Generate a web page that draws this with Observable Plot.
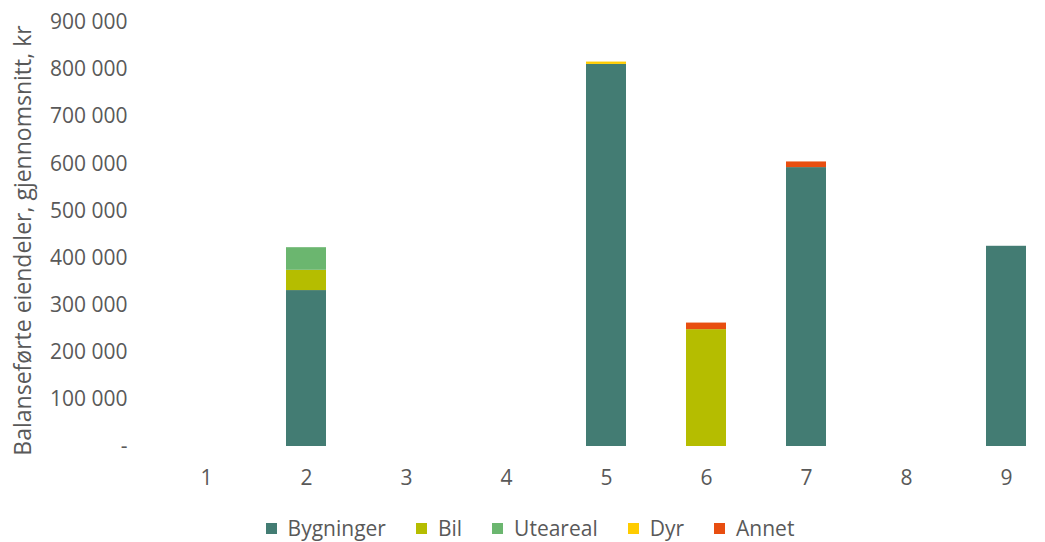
<!DOCTYPE html>
<html>
<head>
<meta charset="utf-8">
<script src="https://cdn.jsdelivr.net/npm/d3@7"></script>
<script src="https://cdn.jsdelivr.net/npm/@observablehq/plot@0.6"></script>
<style>
  body { margin: 0; background: #fff; font-family: "Open Sans", sans-serif; }
  #chart { position: relative; width: 1045px; height: 542px; overflow: hidden; }
  #legend { position: absolute; top: 518px; left: 0; width: 1060px; display: flex; justify-content: center; gap: 0; font-size: 21px; line-height: 21px; color: #595959; }
  .item { display: flex; align-items: center; margin: 0 15px; }
  .sw { width: 11px; height: 11px; margin-right: 11px; }
</style>
</head>
<body>
<div id="chart"><div id="legend"></div></div>
<script>
const categories = ["1", "2", "3", "4", "5", "6", "7", "8", "9"];
const seriesNames = ["Bygninger", "Bil", "Uteareal", "Dyr", "Annet"];
const seriesColors = ["#437c73", "#b5bd00", "#6bb66f", "#ffcc00", "#e84e10"];
const bygninger = [0, 331000, 0, 0, 811000, 0, 592000, 0, 425000];
const bil       = [0, 43000, 0, 0, 0, 248000, 0, 0, 0];
const uteareal  = [0, 48000, 0, 0, 0, 0, 0, 0, 0];
const dyr       = [0, 0, 0, 0, 5000, 0, 0, 0, 0];
const annet     = [0, 0, 0, 0, 0, 14000, 12000, 0, 0];
const yTicks = [0, 100000, 200000, 300000, 400000, 500000, 600000, 700000, 800000, 900000];
const yTitle = "Balanseførte eiendeler, gjennomsnitt, kr";

const seriesValues = [bygninger, bil, uteareal, dyr, annet];
const data = [];
seriesNames.forEach((s, i) => categories.forEach((c, j) => data.push({cat: c, series: s, value: seriesValues[i][j]})));

const fmt = v => v === 0 ? "-" : d3.format(",")(v).replace(/,/g, " ");

const plot = Plot.plot({
  width: 1045,
  height: 500,
  marginLeft: 156,
  marginRight: 0,
  marginTop: 22,
  marginBottom: 54,
  style: {fontFamily: "Open Sans, sans-serif", fontSize: "21px", color: "#595959", background: "transparent"},
  x: {domain: categories, range: [156, 1056], paddingInner: 0.6, paddingOuter: 0.3, label: null},
  y: {domain: [0, 900000], label: null},
  color: {domain: seriesNames, range: seriesColors},
  marks: [
    Plot.gridY(yTicks, {stroke: "#d9d9d9", strokeOpacity: 1, x1: 156, x2: 1056}),
    Plot.barY(data, {x: "cat", y: "value", fill: "series", order: seriesNames}),
    Plot.axisY(yTicks, {tickSize: 0, tickPadding: 29, tickFormat: fmt, label: null, fill: "#595959"}),
    Plot.axisX(categories, {tickSize: 0, tickPadding: 24, label: null, fill: "#595959"}),
    Plot.text([yTitle], {frameAnchor: "left", textAnchor: "middle", rotate: -90, dx: -133, dy: 6, fontSize: 23, fill: "#595959"})
  ]
});
document.getElementById("chart").prepend(plot);

const legend = document.getElementById("legend");
seriesNames.forEach((s, i) => {
  const it = document.createElement("div");
  it.className = "item";
  it.innerHTML = `<div class="sw" style="background:${seriesColors[i]}"></div><span>${s}</span>`;
  legend.appendChild(it);
});
</script>
</body>
</html>
